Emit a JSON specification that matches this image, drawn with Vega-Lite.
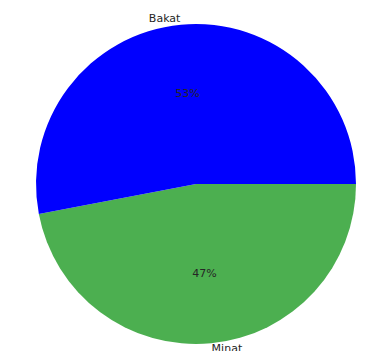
{
  "$schema": "https://vega.github.io/schema/vega-lite/v6.json",
  "width": 374,
  "height": 334,
  "autosize": "none",
  "padding": {"left": 9, "top": 17, "right": 0, "bottom": 0},
  "background": "white",
  "config": {"view": {"stroke": null}},
  "data": {"values": [
    {"label": "Minat", "pct": 47, "pctText": "47%"},
    {"label": "Bakat", "pct": 53, "pctText": "53%"}
  ]},
  "encoding": {
    "theta": {"field": "pct", "type": "quantitative", "stack": true, "scale": {"range": [1.5708, 7.8540]}},
    "order": {"field": "label", "sort": "descending"}
  },
  "layer": [
    {
      "mark": {"type": "arc", "outerRadius": 160},
      "encoding": {
        "color": {"field": "label", "type": "nominal", "scale": {"domain": ["Bakat", "Minat"], "range": ["#0000ff", "#4caf50"]}, "legend": null}
      }
    },
    {
      "mark": {"type": "text", "radius": 90, "fontSize": 11, "font": "DejaVu Sans", "fill": "#262626"},
      "encoding": {"text": {"field": "pctText"}}
    },
    {
      "mark": {"type": "text", "radius": 166, "fontSize": 11, "font": "DejaVu Sans", "fill": "#262626",
        "align": {"expr": "datum.label == 'Bakat' ? 'right' : 'left'"}},
      "encoding": {"text": {"field": "label"}}
    }
  ]
}
